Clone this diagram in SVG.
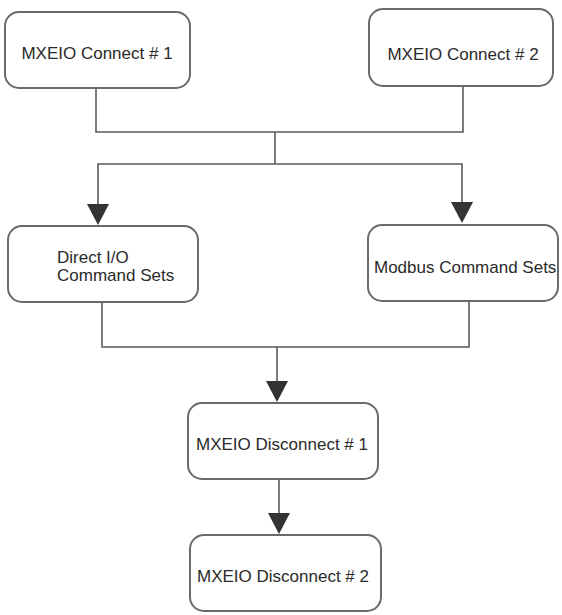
<svg xmlns="http://www.w3.org/2000/svg" width="562" height="615" viewBox="0 0 562 615">
<style>
.box{fill:#fff;stroke:#6a6a6a;stroke-width:2}
.t{font-family:"Liberation Sans",Arial,sans-serif;font-size:17px;fill:#2a2a2a}
.ln{fill:none;stroke:#5a5a5a;stroke-width:1.6}
.ah{fill:#333}
</style>
<rect width="562" height="615" fill="#fff"/>
<g id="connectors">
<polyline class="ln" points="96,88 96,132 463,132 463,86"/>
<line class="ln" x1="275" y1="132" x2="275" y2="164"/>
<polyline class="ln" points="98,205 98,164 462,164 462,203"/>
<polygon class="ah" points="87,204 109,204 98,225"/>
<polygon class="ah" points="451,202 473,202 462,223"/>
<polyline class="ln" points="102,302 102,347 469,347 469,301"/>
<line class="ln" x1="277" y1="347" x2="277" y2="382"/>
<polygon class="ah" points="266,381 288,381 277,402"/>
<line class="ln" x1="279" y1="479" x2="279" y2="514"/>
<polygon class="ah" points="268,513 290,513 279,534"/>
</g>
<g id="connect1">
<rect class="box" x="5" y="12" width="185" height="76" rx="14"/>
<text class="t" x="97" y="59" text-anchor="middle">MXEIO Connect # 1</text>
</g>
<g id="connect2">
<rect class="box" x="369" y="9" width="184" height="77" rx="14"/>
<text class="t" x="463" y="60" text-anchor="middle">MXEIO Connect # 2</text>
</g>
<g id="directio">
<rect class="box" x="8" y="226" width="190" height="76" rx="14"/>
<text class="t" x="57" y="263">Direct I/O</text>
<text class="t" x="57" y="281">Command Sets</text>
</g>
<g id="modbus">
<rect class="box" x="368" y="225" width="190" height="76" rx="14"/>
<text class="t" x="374" y="273">Modbus Command Sets</text>
</g>
<g id="disconnect1">
<rect class="box" x="188" y="403" width="190" height="76" rx="14"/>
<text class="t" x="282" y="450" text-anchor="middle">MXEIO Disconnect # 1</text>
</g>
<g id="disconnect2">
<rect class="box" x="190" y="535" width="191" height="76" rx="14"/>
<text class="t" x="283" y="582" text-anchor="middle">MXEIO Disconnect # 2</text>
</g>
</svg>
